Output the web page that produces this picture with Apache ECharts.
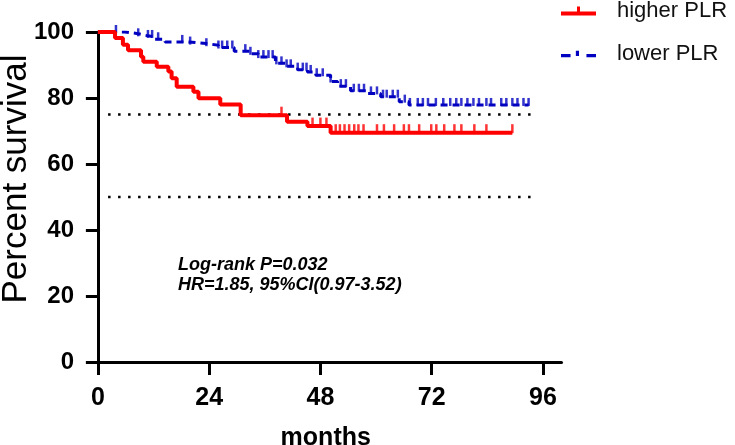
<!DOCTYPE html>
<html>
<head>
<meta charset="utf-8">
<script src="https://cdn.jsdelivr.net/npm/echarts@6/dist/echarts.min.js"></script>
<style>
html,body{margin:0;padding:0;background:#fff;}
#c{width:735px;height:445px;}
</style>
</head>
<body>
<div id="c"></div>
<script>
// ---- data ----
const xTicks = [0, 24, 48, 72, 96];
const yTicks = [0, 20, 40, 60, 80, 100];
const seriesNames = ['higher PLR', 'lower PLR'];

const redTimes = [0, 3.7, 5.4, 6.5, 9.3, 9.8, 12.7, 15.2, 15.9, 17.0, 20.6, 21.7, 26.4, 30.8, 40.8, 45.2, 50.2, 89.4];
const redSurv  = [100, 98.2, 96.1, 94.5, 92.5, 91.0, 89.5, 88.0, 86.0, 83.4, 81.9, 79.9, 78.0, 74.8, 72.8, 71.5, 69.5, 69.5];
const redCensor = [39.6, 46.3, 48.0, 49.3, 51.3, 52.2, 53.2, 54.2, 55.3, 56.2, 57.3, 60.2, 61.7, 63.9, 66.0, 67.1, 69.3, 71.9, 73.0, 74.7, 76.9, 78.4, 81.2, 83.8, 89.4];

const blueTimes = [0, 5.8, 8.7, 10.2, 12.3, 14.5, 19.5, 23.4, 26.0, 29.4, 32.9, 34.6, 38.3, 40.5, 43.1, 45.2, 47.0, 50.2, 51.7, 54.5, 58.2, 61.0, 65.0, 67.1, 92.9];
const blueSurv  = [100, 99.5, 99.0, 98.5, 97.8, 97.0, 96.5, 96.0, 95.3, 94.2, 93.4, 92.4, 90.5, 89.6, 88.6, 87.9, 86.9, 85.0, 83.6, 82.2, 81.4, 80.4, 78.9, 77.9, 77.9];
const blueCensor = [3.9, 8.7, 10.8, 11.7, 13.0, 18.2, 19.9, 23.4, 26.0, 26.8, 27.9, 29.0, 31.8, 32.9, 34.6, 35.7, 36.8, 37.7, 38.5, 39.6, 40.7, 41.6, 43.1, 44.2, 45.0, 45.9, 47.2, 48.5, 50.2, 52.4, 53.5, 55.2, 56.3, 57.4, 58.9, 60.2, 61.5, 62.3, 63.6, 64.7, 66.2, 67.3, 69.0, 70.1, 71.2, 72.9, 74.5, 76.0, 77.3, 78.4, 79.7, 81.0, 82.2, 83.8, 84.8, 87.0, 88.1, 89.4, 90.5, 91.8, 92.9];

const refLevels = [75, 50];
const refStart = 2.2, refEnd = 94.6;

const annot1 = 'Log-rank P=0.032';
const annot2 = 'HR=1.85, 95%CI(0.97-3.52)';

// ---- helpers ----
function levelAt(times, surv, t) {
  let v = surv[0];
  for (let i = 0; i < times.length; i++) if (times[i] <= t) v = surv[i];
  return v;
}
const redLine = redTimes.map((t, i) => [t, redSurv[i]]);
const blueLine = blueTimes.map((t, i) => [t, blueSurv[i]]);
const redTicks = redCensor.map(t => [t, levelAt(redTimes, redSurv, t)]);
const blueTicks = blueCensor.map(t => [t, levelAt(blueTimes, blueSurv, t)]);

const RED = '#ff0000', BLUE = '#0000c0';
const FONT = 'Liberation Sans, Arial, sans-serif';

const refSeries = refLevels.map(v => ({
  type: 'line', data: [[refStart, v], [refEnd, v]], symbol: 'none', silent: true,
  lineStyle: { color: '#000', width: 2.5, type: [2.5, 7.5] }, z: 1
}));

const chart = echarts.init(document.getElementById('c'), null, { renderer: 'canvas' });
chart.setOption({
  animation: false,
  backgroundColor: '#fff',
  grid: { left: 90, right: 173.5, top: 32, bottom: 72, containLabel: false, outerBoundsMode: 'none' },
  legend: {
    orient: 'vertical', left: 561, top: 0, padding: 0,
    itemWidth: 35, itemHeight: 9, itemGap: 21,
    textStyle: { fontSize: 22, fontFamily: FONT, color: '#111', lineHeight: 22, padding: [0, 0, 0, 16] },
    data: [
      { name: seriesNames[0], icon: 'path://M0,5h35v4h-35z M16,0h3v5h-3z' },
      { name: seriesNames[1], icon: 'path://M0,5h9v3h-9z M14,2h3v5h-3z M24,5h9v3h-9z' }
    ]
  },
  xAxis: {
    type: 'value', min: -1.7, max: 100,
    axisLine: { onZero: true, lineStyle: { color: '#000', width: 3 } },
    axisTick: { show: true, length: 13, lineStyle: { color: '#000', width: 3 }, customValues: xTicks },
    axisLabel: { customValues: xTicks, margin: 13, fontSize: 25, fontWeight: 'bold', fontFamily: FONT, color: '#000' },
    splitLine: { show: false },
    name: 'months', nameLocation: 'middle', nameGap: 53,
    nameTextStyle: { fontSize: 25, fontWeight: 'bold', fontFamily: FONT, color: '#000' }
  },
  yAxis: {
    type: 'value', min: -3.3, max: 100,
    axisLine: { onZero: true, lineStyle: { color: '#000', width: 3 } },
    axisTick: { show: true, length: 12, lineStyle: { color: '#000', width: 3 }, customValues: yTicks },
    axisLabel: { customValues: yTicks, margin: 16, fontSize: 24, fontWeight: 'bold', fontFamily: FONT, color: '#000' },
    splitLine: { show: false }
  },
  graphic: [
    { type: 'text', x: 16, y: 179, rotation: Math.PI / 2,
      style: { text: 'Percent survival', font: '35px ' + FONT, fill: '#000', textAlign: 'center', textVerticalAlign: 'middle' } },
    { type: 'text', left: 178, top: 256,
      style: { text: annot1, font: 'italic bold 18px ' + FONT, fill: '#000' } },
    { type: 'text', left: 178, top: 276,
      style: { text: annot2, font: 'italic bold 18px ' + FONT, fill: '#000' } }
  ],
  series: [
    ...refSeries,
    { name: seriesNames[1], type: 'line', step: 'end', data: blueLine, symbol: 'none',
      itemStyle: { color: BLUE }, lineStyle: { color: BLUE, width: 3, type: [7, 5] }, z: 2 },
    { name: seriesNames[1], type: 'scatter', data: blueTicks, symbol: 'rect', symbolSize: [2.5, 8], symbolOffset: [0, -3],
      itemStyle: { color: BLUE }, z: 2 },
    { name: seriesNames[0], type: 'line', step: 'end', data: redLine, symbol: 'none',
      itemStyle: { color: RED }, lineStyle: { color: RED, width: 4 }, z: 3 },
    { name: seriesNames[0], type: 'scatter', data: redTicks, symbol: 'rect', symbolSize: [2.5, 9], symbolOffset: [0, -4],
      itemStyle: { color: RED }, z: 3 }
  ]
});
</script>
</body>
</html>
